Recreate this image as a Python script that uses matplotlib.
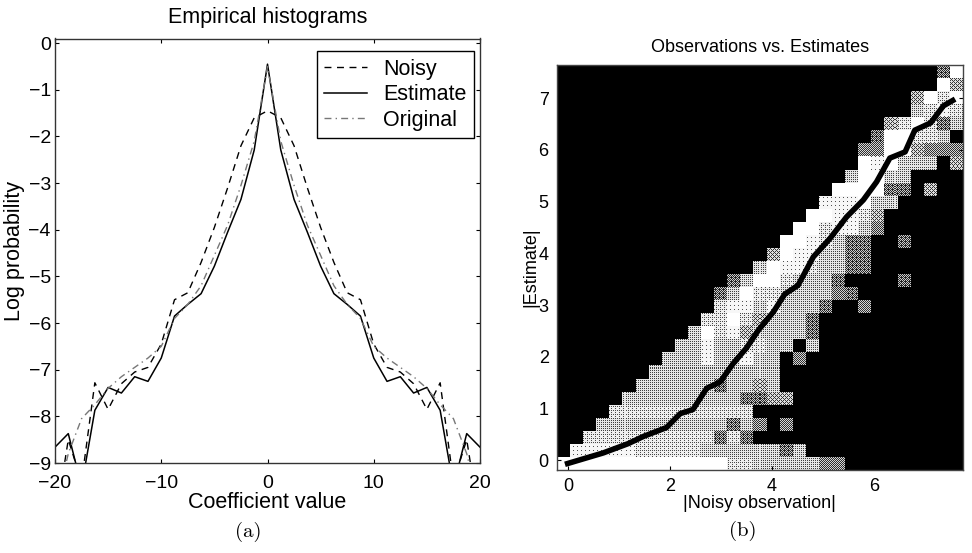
import numpy as np
import matplotlib
matplotlib.use('Agg')
import matplotlib.pyplot as plt

plt.rcParams['font.family'] = ['Liberation Sans', 'DejaVu Sans']

# histogram bins, right half only (the curves are mirrored)
bins = [0, 1.25, 2.5, 3.75, 5, 6.25, 7.5, 8.75, 10, 11.25, 12.5, 13.75, 15, 16.25, 17.5, 18.75, 20]
noisy = [-1.45, -1.6, -2.2, -3.1, -3.95, -4.7, -5.35, -5.5, -6.45, -6.95, -7.05, -7.3, -7.85, -7.28, -9.4, -8.5, -10.3]
estimate = [-0.45, -2.29, -3.35, -4.05, -4.78, -5.37, -5.6, -5.85, -6.75, -7.25, -7.15, -7.5, -7.38, -7.87, -9.5, -8.37, -8.66]
original = [-0.5, -2.1, -3.05, -3.9, -4.55, -5.2, -5.6, -5.9, -6.5, -6.75, -6.95, -7.15, -7.4, -7.75, -8.05, -8.8, -10.0]

# joint histogram, one string per row from the bottom up, 0 black to 9 white
rows = [
    '99999 99999 99977 66666 44000 00000 0',
    '08888 87777 76666 66360 00000 00000 0',
    '00777 77777 77373 00000 00000 00000 0',
    '00066 66666 66636 40400 00000 00000 0',
    '00007 77777 77777 00000 00000 00000 0',
    '00000 66666 66663 35500 00000 00000 0',
    '00000 06666 66366 56000 00000 00000 0',
    '00000 00666 66666 66000 00000 00000 0',
    '00000 00066 68668 66040 00000 00000 0',
    '00000 00006 68667 76606 00000 00000 0',
    '00000 00000 69785 66663 00000 00000 0',
    '00000 00000 07797 56663 00000 00000 0',
    '00000 00000 00788 68666 30040 00000 0',
    '00000 00000 00369 77666 64300 00000 0',
    '00000 00000 00036 99766 63000 03000 0',
    '00000 00000 00000 69887 66330 00000 0',
    '00000 00000 00000 05988 66330 00000 0',
    '00000 00000 00000 00998 76330 03000 0',
    '00000 00000 00000 00099 78864 00000 0',
    '00000 00000 00000 00009 98875 00000 0',
    '00000 00000 00000 00000 88896 60000 0',
    '00000 00000 00000 00000 09999 33050 0',
    '00000 00000 00000 00000 00699 66000 0',
    '00000 00000 00000 00000 00098 96660 5',
    '00000 00000 00000 00000 00044 99544 4',
    '00000 00000 00000 00000 00003 99776 0',
    '00000 00000 00000 00000 00000 57973 6',
    '00000 00000 00000 00000 00000 00678 7',
    '00000 00000 00000 00000 00000 00597 9',
    '00000 00000 00000 00000 00000 00009 5',
    '00000 00000 00000 00000 00000 00003 9',
]

# average estimate for each noisy observation
obs = [-0.06, 0.69, 1.18, 1.48, 1.93, 2.2, 2.45, 2.72, 2.98, 3.24, 3.5, 3.73, 4.03, 4.25, 4.51, 4.81,
       5.14, 5.46, 5.79, 6.05, 6.31, 6.61, 6.8, 7.11, 7.36, 7.59]
est = [-0.08, 0.14, 0.32, 0.46, 0.63, 0.9, 0.98, 1.39, 1.51, 1.87, 2.17, 2.51, 2.87, 3.21, 3.38, 3.93,
       4.29, 4.7, 5.03, 5.38, 5.84, 5.96, 6.38, 6.52, 6.85, 6.98]

W, H = 972, 553


def px_axes(x0, y0, x1, y1):
    return fig.add_axes([x0 / W, 1 - y1 / H, (x1 - x0) / W, (y1 - y0) / H])


fig = plt.figure(figsize=(W / 100, H / 100), dpi=100)

# left panel
ax = px_axes(55, 38.5, 480, 463)
x = np.array(bins)
xs = np.concatenate([-x[:0:-1], x])
mirror = lambda v: np.concatenate([np.array(v)[:0:-1], np.array(v)])
ax.plot(xs, mirror(noisy), color='black', lw=1, dashes=(5, 4), label='Noisy')
ax.plot(xs, mirror(estimate), color='black', lw=1.1, label='Estimate')
ax.plot(xs, mirror(original), color='#777777', lw=1, dashes=(5, 3, 1, 3), label='Original')
ax.set_xlim(-20, 20)
ax.set_ylim(-9, 0.1)
ax.set_xticks([-20, -10, 0, 10, 20])
ax.set_yticks(range(-9, 1))
ax.tick_params(direction='in', top=True, right=True, length=3, width=0.8, labelsize=14, pad=3)
ax.tick_params(axis='x', pad=9)
ax.set_xlabel('Coefficient value', fontsize=15.5, labelpad=0)
ax.set_ylabel('Log probability', fontsize=15.5)
ax.yaxis.set_label_coords(-0.07, 0.5)
ax.set_title('Empirical histograms', fontsize=15.5, pad=11)
for s in ax.spines.values():
    s.set_linewidth(1)
    s.set_color('#333333')
leg = ax.legend(loc='upper right', bbox_to_anchor=(0.9866, 0.9695), borderaxespad=0, fontsize=15.5,
                fancybox=False, framealpha=1, edgecolor='black', handlelength=2.0,
                labelspacing=0.2, borderpad=0.35, handletextpad=0.75)
leg.get_frame().set_linewidth(1)

# right panel
ax2 = px_axes(557, 65, 962.5, 470)
grid = (np.array([[int(c) for c in r.replace(' ', '')] for r in rows]) / 9.0) ** 0.8
# ordered dither so the greys print like a halftone
block = 13
bayer = (np.array([[0, 8, 2, 10], [12, 4, 14, 6], [3, 11, 1, 9], [15, 7, 13, 5]]) + 0.5) / 16
big = np.kron(grid, np.ones((block, block)))
thr = np.tile(bayer, (big.shape[0] // 4 + 1, big.shape[1] // 4 + 1))[:big.shape[0], :big.shape[1]]
dith = 0.65 * (big > thr) + 0.35 * big
ax2.imshow(dith, origin='lower', cmap='gray', vmin=0, vmax=1, extent=(-0.216, 7.735, -0.19, 7.64),
           aspect='auto', interpolation='nearest')
ax2.plot(obs, est, color='black', lw=4, solid_capstyle='butt')
ax2.set_xlim(-0.216, 7.735)
ax2.set_ylim(-0.19, 7.64)
ax2.set_xticks([0, 2, 4, 6])
ax2.set_yticks(range(0, 8))
ax2.tick_params(direction='in', top=True, right=True, length=3, width=0.8, labelsize=13, pad=6)
ax2.set_xlabel('|Noisy observation|', fontsize=13, labelpad=0)
ax2.set_ylabel('|Estimate|', fontsize=13)
ax2.yaxis.set_label_coords(-0.044, 0.5)
ax2.set_title('Observations vs. Estimates', fontsize=13, pad=9)
for s in ax2.spines.values():
    s.set_linewidth(1)
    s.set_color('#444444')

fig.text(248 / W, 1 - 537 / H, '(a)', family='cmr10', fontsize=15, ha='center', va='baseline')
fig.text(743 / W, 1 - 536 / H, '(b)', family='cmr10', fontsize=15, ha='center', va='baseline')

fig.savefig('out.png', dpi=100)
